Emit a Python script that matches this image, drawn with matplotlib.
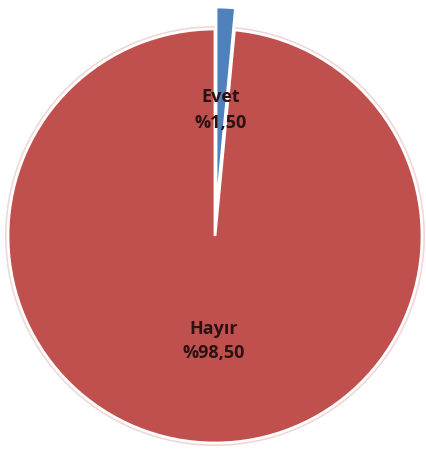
import matplotlib
matplotlib.use("Agg")
import matplotlib.pyplot as plt
from matplotlib.patches import Circle

categories = ["Evet", "Hayır"]
values = [1.50, 98.50]
colors = ["#4F81BD", "#C0504D"]

W, H = 426, 451
fig = plt.figure(figsize=(W / 100, H / 100), dpi=100)
ax = fig.add_axes([0, 0, 1, 1])
ax.set_xlim(0, W)
ax.set_ylim(0, H)
ax.set_aspect("equal")
ax.axis("off")

cx, cy, r = 215, H - 236, 207

# faint halo around the pie
ax.add_patch(Circle((cx, cy), r + 3, facecolor="#F0D6D5", edgecolor="none", zorder=0))

wedges, _ = ax.pie(values, colors=colors, startangle=90, counterclock=False,
                   radius=r, center=(cx, cy), explode=[22, 0],
                   wedgeprops=dict(edgecolor="white", linewidth=2.0),
                   frame=True)
ax.set_xlim(0, W)
ax.set_ylim(0, H)
ax.axis("off")

def fmt(name, v):
    return f"{name}\n%{v:.2f}".replace(".", ",")

label_pos = [(221, H - 110), (214, H - 341)]
for name, v, (x, y) in zip(categories, values, label_pos):
    ax.text(x, y, fmt(name, v), ha="center", va="center", fontsize=13,
            fontweight="bold", family="Open Sans", color="#2B1212", linespacing=1.5, zorder=5)

fig.savefig("out.png", dpi=100)
